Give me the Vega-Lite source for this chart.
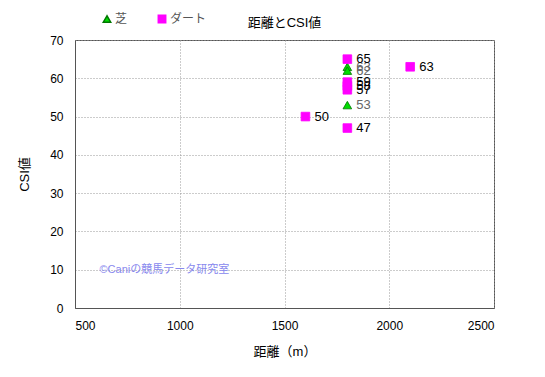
{
  "$schema": "https://vega.github.io/schema/vega-lite/v6.json",
  "autosize": "none",
  "width": 419,
  "height": 268,
  "padding": {"left": 75, "top": 40, "right": 51, "bottom": 69},
  "background": "white",
  "title": {"text": "距離とCSI値", "fontSize": 13, "fontWeight": "normal", "font": "Liberation Sans, Noto Sans CJK JP", "color": "#000", "offset": -17, "anchor": "middle"},
  "config": {
    "view": {"stroke": "#555", "strokeWidth": 1},
    "font": "Liberation Sans, Noto Sans CJK JP"
  },
  "datasets": {
    "pts": [
      {"dist": 1800, "csi": 63, "surface": "芝"},
      {"dist": 1800, "csi": 62, "surface": "芝"},
      {"dist": 1800, "csi": 53, "surface": "芝"},
      {"dist": 1800, "csi": 65, "surface": "ダート"},
      {"dist": 1800, "csi": 59, "surface": "ダート"},
      {"dist": 1800, "csi": 58, "surface": "ダート"},
      {"dist": 1800, "csi": 57, "surface": "ダート"},
      {"dist": 1600, "csi": 50, "surface": "ダート"},
      {"dist": 1800, "csi": 47, "surface": "ダート"},
      {"dist": 2100, "csi": 63, "surface": "ダート"}
    ],
    "mark": [{"dist": 617, "csi": 10, "label": "©Caniの競馬データ研究室"}]
  },
  "encoding": {
    "x": {"field": "dist", "type": "quantitative", "scale": {"domain": [500, 2500], "nice": false},
      "axis": {"values": [500, 1000, 1500, 2000, 2500], "format": "d", "labelOverlap": false, "title": "距離（m）", "titleFontSize": 13, "titleFontWeight": "normal", "titleColor": "#000", "titlePadding": 14,
        "labelFontSize": 12, "labelColor": "#000", "labelPadding": 12, "ticks": false, "domainColor": "#555",
        "grid": true, "gridColor": "#999", "gridDash": [1, 2], "gridWidth": 1}},
    "y": {"field": "csi", "type": "quantitative", "scale": {"domain": [0, 70], "nice": false},
      "axis": {"values": [0, 10, 20, 30, 40, 50, 60, 70], "format": "d", "labelOverlap": false, "title": "CSI値", "titleFontSize": 13, "titleFontWeight": "normal", "titleColor": "#000", "titlePadding": 18,
        "labelFontSize": 12, "labelColor": "#000", "labelPadding": 12, "ticks": false, "domainColor": "#555",
        "grid": true, "gridColor": "#999", "gridDash": [1, 2], "gridWidth": 1}}
  },
  "layer": [
    {
      "data": {"name": "pts"},
      "mark": {"type": "point", "filled": true, "size": 75, "strokeWidth": 0.8, "opacity": 1},
      "encoding": {
        "shape": {"field": "surface", "type": "nominal", "scale": {"domain": ["芝", "ダート"], "range": ["triangle-up", "square"]},
          "legend": {"title": null, "orient": "none", "legendX": 26, "legendY": -27, "direction": "horizontal", "gridAlign": "none", "labelFontSize": 12, "labelColor": "#555", "symbolSize": 55, "columnPadding": 27, "symbolOffset": 0, "labelOffset": 2}},
        "fill": {"field": "surface", "type": "nominal", "scale": {"domain": ["芝", "ダート"], "range": ["#00dd00", "#ff00ff"]}, "legend": null},
        "stroke": {"field": "surface", "type": "nominal", "scale": {"domain": ["芝", "ダート"], "range": ["#007700", "#ff00ff"]}, "legend": null}
      }
    },
    {
      "data": {"name": "pts"},
      "mark": {"type": "text", "align": "left", "baseline": "middle", "dx": 9, "fontSize": 13},
      "encoding": {
        "text": {"field": "csi", "type": "quantitative"},
        "color": {"field": "surface", "type": "nominal", "scale": {"domain": ["芝", "ダート"], "range": ["#666", "#000"]}, "legend": null}
      }
    },
    {
      "data": {"name": "mark"},
      "mark": {"type": "text", "align": "left", "baseline": "middle", "fontSize": 11, "color": "#8888ee"},
      "encoding": {
        "text": {"field": "label"}
      }
    }
  ],
  "resolve": {"scale": {"color": "independent"}}
}
